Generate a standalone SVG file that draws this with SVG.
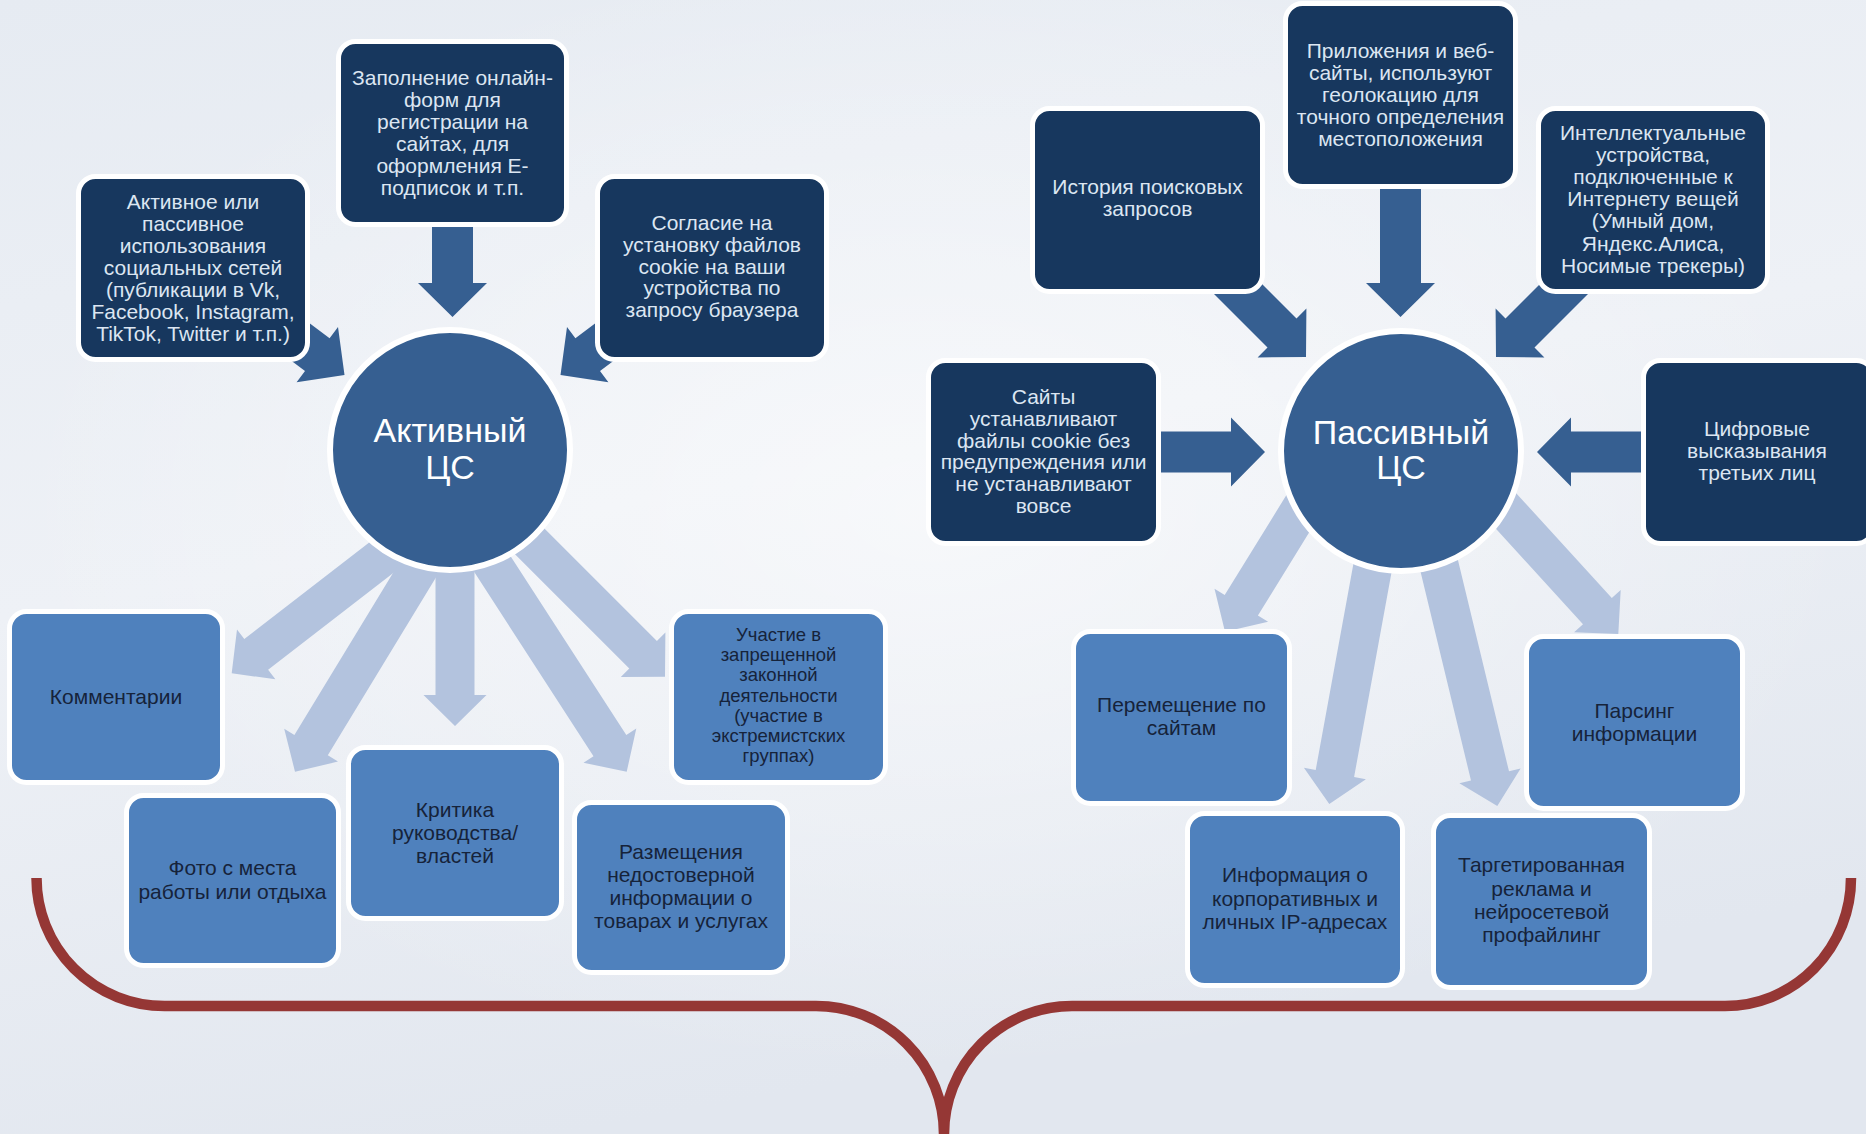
<svg xmlns="http://www.w3.org/2000/svg" width="1866" height="1134" viewBox="0 0 1866 1134">
<defs>
<linearGradient id="bg" x1="0" y1="0" x2="0.3" y2="1">
<stop offset="0" stop-color="#e6ebf2"/>
<stop offset="0.5" stop-color="#eef1f6"/>
<stop offset="1" stop-color="#e2e7ef"/>
</linearGradient>
<radialGradient id="glow" cx="0.5" cy="0.45" r="0.5">
<stop offset="0" stop-color="#ffffff" stop-opacity="0.55"/>
<stop offset="1" stop-color="#ffffff" stop-opacity="0"/>
</radialGradient>
<style>
.dbox{fill:#17375e;stroke:#ffffff;stroke-width:5}
.lbox{fill:#4f81bd;stroke:#ffffff;stroke-width:5}
.circ{fill:#365f91;stroke:#ffffff;stroke-width:6}
.darr{fill:#365f91}
.larr{fill:#b3c3de}
.dt{font-family:"Liberation Sans",Arial,sans-serif;font-size:21px;fill:#dce6f2;text-anchor:middle}
.lt{font-family:"Liberation Sans",Arial,sans-serif;font-size:21px;fill:#16233a;text-anchor:middle}
.st{font-size:18.5px}
.ct{font-family:"Liberation Sans",Arial,sans-serif;font-size:34px;fill:#ffffff;text-anchor:middle}
.brace{fill:none;stroke:#953735;stroke-width:10.5}
</style>
</defs>
<rect width="1866" height="1134" fill="url(#bg)"/>
<rect width="1866" height="1134" fill="url(#glow)"/>

<g id="connectors">
<polygon class="darr" points="432,200 432,283 418,283 452.5,317 487,283 473,283 473,200"/>
<polygon class="darr" points="228.2,313.4 305,371 296.6,382.2 344.5,375 338,327 329.6,338.2 252.8,280.6"/>
<polygon class="darr" points="676.8,313.4 600,371 608.4,382.2 560.5,375 567,327 575.4,338.2 652.2,280.6"/>
<polygon class="darr" points="1380,170 1380,283 1366,283 1400.5,317 1435,283 1421,283 1421,170"/>
<polygon class="darr" points="1192.5,272.5 1267.5,347.5 1257.6,357.4 1306,357 1306.4,308.6 1296.5,318.5 1221.5,243.5"/>
<polygon class="darr" points="1609.5,272.5 1534.5,347.5 1544.4,357.4 1496,357 1495.6,308.6 1505.5,318.5 1580.5,243.5"/>
<polygon class="darr" points="1120,431.5 1231,431.5 1231,417.5 1265,452 1231,486.5 1231,472.5 1120,472.5"/>
<polygon class="darr" points="1682,431.5 1571,431.5 1571,417.5 1537,452 1571,486.5 1571,472.5 1682,472.5"/>

<polygon class="larr" points="441.3,486.8 244.3,639 237,629.5 231.7,673.3 275.4,679.3 268.1,669.8 465.1,517.6"/>
<polygon class="larr" points="434.3,505.1 294.4,735.1 284.2,728.8 295,771.7 338,761.6 327.8,755.3 467.7,525.3"/>
<polygon class="larr" points="435.5,500 435.5,695 423.5,695 455,726 486.5,695 474.5,695 474.5,500"/>
<polygon class="larr" points="447.4,530.6 593.5,756.3 583.5,762.8 626.7,771.7 636.3,728.6 626.3,735.1 480.2,509.4"/>
<polygon class="larr" points="439.1,478.4 629.3,668.6 620.8,677.1 665,676.7 665.4,632.5 656.9,641 466.7,450.8"/>

<polygon class="larr" points="1365.9,366.2 1224.7,595.1 1214.5,588.8 1225,631.7 1268.1,621.8 1257.9,615.5 1399.1,386.6"/>
<polygon class="larr" points="1369.5,475.8 1315.7,770 1303.9,767.8 1329.3,804 1365.9,779.2 1354.1,777 1407.9,482.8"/>
<polygon class="larr" points="1398.4,480.1 1471,780.5 1459.4,783.3 1497.3,806 1520.6,768.5 1509,771.3 1436.4,470.9"/>
<polygon class="larr" points="1401.7,425.4 1583,624.2 1574.1,632.3 1618.3,634 1620.7,589.9 1611.8,598 1430.5,399.2"/>
</g>

<g id="brace">
<path class="brace" d="M36.5 878 A128 128 0 0 0 164.5 1006 H816 A128 128 0 0 1 944 1134 A128 128 0 0 1 1072 1006 H1725 A126 128 0 0 0 1851 878"/>
</g>

<g id="active-center">
<circle class="circ" cx="450" cy="450" r="120"/>
<text class="ct"><tspan x="450" y="442">Активный</tspan><tspan x="450" y="479">ЦС</tspan></text>
</g>
<g id="passive-center">
<circle class="circ" cx="1401" cy="451" r="120"/>
<text class="ct"><tspan x="1401" y="444">Пассивный</tspan><tspan x="1401" y="479">ЦС</tspan></text>
</g>

<g id="n-social">
<rect class="dbox" x="78.5" y="176.5" width="229" height="183" rx="17"/>
<text class="dt"><tspan x="193" y="209">Активное или</tspan><tspan x="193" y="231">пассивное</tspan><tspan x="193" y="253">использования</tspan><tspan x="193" y="275">социальных сетей</tspan><tspan x="193" y="297">(публикации в Vk,</tspan><tspan x="193" y="319">Facebook, Instagram,</tspan><tspan x="193" y="341">TikTok, Twitter и т.п.)</tspan></text>
</g>
<g id="n-forms">
<rect class="dbox" x="338.5" y="41.5" width="228" height="183" rx="17"/>
<text class="dt"><tspan x="452.5" y="84.5">Заполнение онлайн-</tspan><tspan x="452.5" y="106.6">форм для</tspan><tspan x="452.5" y="128.7">регистрации на</tspan><tspan x="452.5" y="150.8">сайтах, для</tspan><tspan x="452.5" y="172.9">оформления Е-</tspan><tspan x="452.5" y="195">подписок и т.п.</tspan></text>
</g>
<g id="n-cookie">
<rect class="dbox" x="597.5" y="176.5" width="229" height="183" rx="17"/>
<text class="dt"><tspan x="712" y="230">Согласие на</tspan><tspan x="712" y="251.8">установку файлов</tspan><tspan x="712" y="273.6">cookie на ваши</tspan><tspan x="712" y="295.4">устройства по</tspan><tspan x="712" y="317.2">запросу браузера</tspan></text>
</g>
<g id="n-history">
<rect class="dbox" x="1032.5" y="108.5" width="230" height="183" rx="17"/>
<text class="dt"><tspan x="1147.5" y="194">История поисковых</tspan><tspan x="1147.5" y="216">запросов</tspan></text>
</g>
<g id="n-geo">
<rect class="dbox" x="1285.5" y="3.5" width="230" height="183" rx="17"/>
<text class="dt"><tspan x="1400.5" y="57.5">Приложения и веб-</tspan><tspan x="1400.5" y="79.6">сайты, используют</tspan><tspan x="1400.5" y="101.7">геолокацию для</tspan><tspan x="1400.5" y="123.8">точного определения</tspan><tspan x="1400.5" y="145.9">местоположения</tspan></text>
</g>
<g id="n-iot">
<rect class="dbox" x="1538.5" y="108.5" width="229" height="183" rx="17"/>
<text class="dt"><tspan x="1653" y="139.6">Интеллектуальные</tspan><tspan x="1653" y="161.8">устройства,</tspan><tspan x="1653" y="184">подключенные к</tspan><tspan x="1653" y="206.2">Интернету вещей</tspan><tspan x="1653" y="228.4">(Умный дом,</tspan><tspan x="1653" y="250.6">Яндекс.Алиса,</tspan><tspan x="1653" y="272.8">Носимые трекеры)</tspan></text>
</g>
<g id="n-sites">
<rect class="dbox" x="928.5" y="360.5" width="230" height="183" rx="17"/>
<text class="dt"><tspan x="1043.5" y="404">Сайты</tspan><tspan x="1043.5" y="425.8">устанавливают</tspan><tspan x="1043.5" y="447.6">файлы cookie без</tspan><tspan x="1043.5" y="469.4">предупреждения или</tspan><tspan x="1043.5" y="491.2">не устанавливают</tspan><tspan x="1043.5" y="513">вовсе</tspan></text>
</g>
<g id="n-digital">
<rect class="dbox" x="1643.5" y="360.5" width="230" height="183" rx="17"/>
<text class="dt"><tspan x="1757" y="436">Цифровые</tspan><tspan x="1757" y="458">высказывания</tspan><tspan x="1757" y="480">третьих лиц</tspan></text>
</g>

<g id="n-comments">
<rect class="lbox" x="9.5" y="611.5" width="213" height="171" rx="17"/>
<text class="lt"><tspan x="116" y="704">Комментарии</tspan></text>
</g>
<g id="n-photo">
<rect class="lbox" x="126.5" y="795.5" width="212" height="170" rx="17"/>
<text class="lt"><tspan x="232.5" y="875">Фото с места</tspan><tspan x="232.5" y="899">работы или отдыха</tspan></text>
</g>
<g id="n-criticism">
<rect class="lbox" x="348.5" y="747.5" width="213" height="171" rx="17"/>
<text class="lt"><tspan x="455" y="816.7">Критика</tspan><tspan x="455" y="839.7">руководства/</tspan><tspan x="455" y="862.7">властей</tspan></text>
</g>
<g id="n-false-info">
<rect class="lbox" x="574.5" y="802.5" width="213" height="170" rx="17"/>
<text class="lt"><tspan x="681" y="859">Размещения</tspan><tspan x="681" y="882">недостоверной</tspan><tspan x="681" y="905">информации о</tspan><tspan x="681" y="928">товарах и услугах</tspan></text>
</g>
<g id="n-banned">
<rect class="lbox" x="671.5" y="611.5" width="214" height="171" rx="17"/>
<text class="lt st"><tspan x="778.5" y="641">Участие в</tspan><tspan x="778.5" y="661.2">запрещенной</tspan><tspan x="778.5" y="681.4">законной</tspan><tspan x="778.5" y="701.6">деятельности</tspan><tspan x="778.5" y="721.8">(участие в</tspan><tspan x="778.5" y="742">экстремистских</tspan><tspan x="778.5" y="762.2">группах)</tspan></text>
</g>

<g id="n-browsing">
<rect class="lbox" x="1073.5" y="631.5" width="216" height="172" rx="17"/>
<text class="lt"><tspan x="1181.5" y="712">Перемещение по</tspan><tspan x="1181.5" y="735">сайтам</tspan></text>
</g>
<g id="n-ip">
<rect class="lbox" x="1187.5" y="813.5" width="215" height="172" rx="17"/>
<text class="lt"><tspan x="1295" y="882.3">Информация о</tspan><tspan x="1295" y="905.6">корпоративных и</tspan><tspan x="1295" y="928.9">личных IP-адресах</tspan></text>
</g>
<g id="n-targeting">
<rect class="lbox" x="1433.5" y="815.5" width="216" height="172" rx="17"/>
<text class="lt"><tspan x="1541.5" y="872.3">Таргетированная</tspan><tspan x="1541.5" y="895.6">реклама и</tspan><tspan x="1541.5" y="918.9">нейросетевой</tspan><tspan x="1541.5" y="942.2">профайлинг</tspan></text>
</g>
<g id="n-parsing">
<rect class="lbox" x="1526.5" y="636.5" width="216" height="172" rx="17"/>
<text class="lt"><tspan x="1634.5" y="718">Парсинг</tspan><tspan x="1634.5" y="741">информации</tspan></text>
</g>
</svg>
